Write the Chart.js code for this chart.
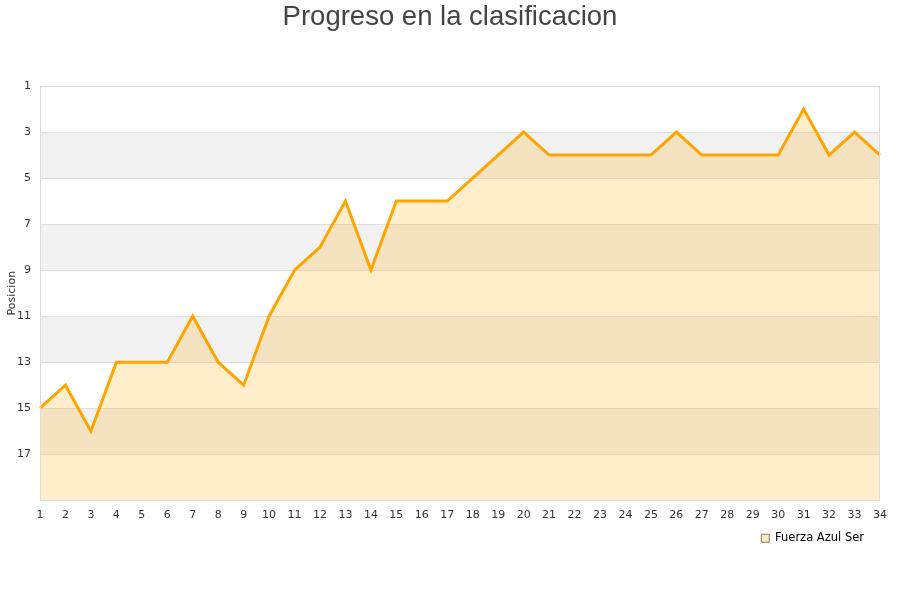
<!DOCTYPE html>
<html>
<head>
<meta charset="utf-8">
<script src="https://cdn.jsdelivr.net/npm/chart.js@4/dist/chart.umd.min.js"></script>
<style>
  html, body { margin: 0; padding: 0; background: #fff; }
  #wrap { width: 900px; height: 600px; }
</style>
</head>
<body>
<div id="wrap"><canvas id="chart_progreso" width="900" height="600"></canvas></div>
<script>
// jornadas y posiciones
var jornadas = [];
for (var j = 1; j <= 34; j++) jornadas.push(String(j));
var posiciones = [15, 14, 16, 13, 13, 13, 11, 13, 14, 11, 9, 8, 6, 9, 6, 6, 6, 5, 4, 3,
                  4, 4, 4, 4, 4, 3, 4, 4, 4, 4, 2, 4, 3, 4];
var equipo = "Fuerza Azul Ser";
var titulo = "Progreso en la clasificacion";
var ejeY = "Posicion";
var bandasGrises = [[3, 5], [7, 9], [11, 13], [15, 17]];

// fondo a bandas, marco del area y titulo centrado en el lienzo
var bandas = {
    id: "bandas",
    afterLayout: function (chart) {
        // la leyenda va un poco mas a la izquierda y arriba
        chart.legend.right -= 6;
        chart.legend.top -= 7;
    },
    beforeDatasetsDraw: function (chart) {
        var ctx = chart.ctx, a = chart.chartArea, y = chart.scales.y;
        ctx.save();
        ctx.fillStyle = "#f2f2f2";
        bandasGrises.forEach(function (b) {
            var y0 = y.getPixelForValue(b[0]), y1 = y.getPixelForValue(b[1]);
            ctx.fillRect(a.left, y0, a.right - a.left, y1 - y0);
        });
        ctx.strokeStyle = "#dedede";
        ctx.lineWidth = 1;
        for (var v = 3; v <= 17; v += 2) {
            var p = Math.round(y.getPixelForValue(v)) + 0.5;
            ctx.beginPath(); ctx.moveTo(a.left, p); ctx.lineTo(a.right, p); ctx.stroke();
        }
        ctx.restore();
    },
    afterDatasetsDraw: function (chart) {
        var ctx = chart.ctx, a = chart.chartArea;
        ctx.save();
        ctx.strokeStyle = "#dcdcdc";
        ctx.lineWidth = 1;
        ctx.strokeRect(Math.round(a.left) + 0.5, Math.round(a.top) + 0.5,
                       Math.round(a.right - a.left) - 1, Math.round(a.bottom - a.top));
        ctx.fillStyle = "#444";
        ctx.font = "27.5px 'Liberation Sans', Arial, sans-serif";
        ctx.textAlign = "center";
        ctx.textBaseline = "alphabetic";
        ctx.fillText(titulo, chart.width / 2, 25);
        ctx.restore();
    }
};

var ctx = document.getElementById("chart_progreso").getContext("2d");
var chart = new Chart(ctx, {
    type: "line",
    data: {
        labels: jornadas,
        datasets: [{
            label: equipo,
            data: posiciones,
            borderColor: "#ffa500",
            backgroundColor: "rgba(255,165,0,0.2)",
            borderWidth: 3,
            pointRadius: 0,
            tension: 0,
            fill: { value: 19 }
        }]
    },
    options: {
        responsive: false,
        animation: false,
        layout: { padding: { left: 0, right: 20, top: 86, bottom: 39 } },
        plugins: {
            title: { display: false },
            legend: {
                position: "bottom",
                align: "end",
                labels: {
                    color: "#222",
                    font: { family: "DejaVu Sans", size: 11.5 },
                    boxWidth: 8,
                    boxHeight: 8,
                    padding: 10,
                    generateLabels: function (c) {
                        return [{
                            text: equipo,
                            fillStyle: "#fdebc8",
                            strokeStyle: "#8a7a60",
                            lineWidth: 1,
                            datasetIndex: 0
                        }];
                    }
                }
            },
            tooltip: { enabled: false }
        },
        scales: {
            x: {
                offset: false,
                grid: { display: false, drawTicks: false },
                border: { display: false },
                ticks: {
                    color: "#333",
                    font: { family: "DejaVu Sans", size: 11 },
                    maxRotation: 0,
                    autoSkip: false,
                    padding: 8
                }
            },
            y: {
                reverse: true,
                min: 1,
                max: 19,
                grid: { display: false, drawTicks: false },
                border: { display: false },
                afterFit: function (s) { s.width = 40; },
                title: {
                    display: true,
                    text: ejeY,
                    color: "#333",
                    font: { family: "DejaVu Sans", size: 11 },
                    padding: { top: 6, bottom: 0 }
                },
                ticks: {
                    stepSize: 2,
                    color: "#333",
                    font: { family: "DejaVu Sans", size: 11 },
                    padding: 9,
                    callback: function (v) { return v === 19 ? "" : v; }
                }
            }
        }
    },
    plugins: [bandas]
});
</script>
</body>
</html>
